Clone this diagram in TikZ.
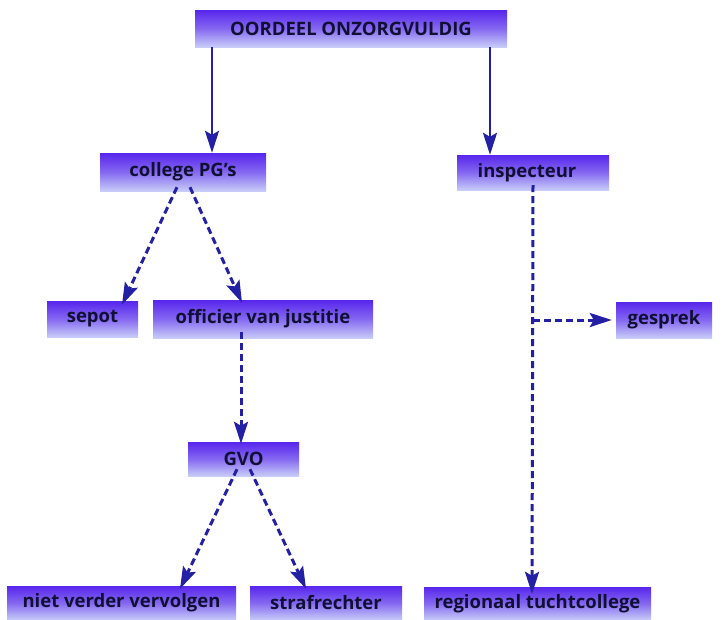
\documentclass[tikz,border=0pt]{standalone}
\usepackage{fontspec}
\setmainfont{Open Sans}
\usetikzlibrary{arrows.meta}
\definecolor{boxtop}{RGB}{88,38,236}
\definecolor{boxbot}{RGB}{200,204,248}
\definecolor{txt}{RGB}{16,16,52}
\definecolor{arr}{RGB}{36,32,165}
\tikzset{
  arrowtip/.style={-{Stealth[length=22pt,width=14pt,inset=4pt]}},
  box/.style={rectangle, inner sep=0pt, top color=boxtop, bottom color=boxbot,
    middle color={boxtop!60!boxbot}, text=txt, font=\fontsize{18.5}{21}\selectfont\bfseries},
  solidarrow/.style={draw=arr, line width=2.6pt, arrowtip},
  dasharrow/.style={draw=arr, line width=3pt, dash pattern=on 7pt off 4pt, arrowtip},
}
\begin{document}
\begin{tikzpicture}[x=1pt,y=-1pt]
\useasboundingbox (0,0) rectangle (723,619);
\clip (0,0) rectangle (723,619);
\node[box, minimum width=312pt, minimum height=37pt] (top) at (351,28.5) {OORDEEL ONZORGVULDIG};
\node[box, minimum width=166pt, minimum height=38pt] (college) at (183,172) {college PG's};
\node[box, minimum width=152pt, minimum height=35pt] (insp) at (533,172.5) {\hspace*{-12pt}inspecteur};
\node[box, minimum width=91pt, minimum height=36pt] (sepot) at (92.5,319) {sepot};
\node[box, minimum width=220pt, minimum height=38pt] (officier) at (263,319) {officier van justitie};
\node[box, minimum width=96pt, minimum height=36pt] (gesprek) at (664,320) {gesprek};
\node[box, minimum width=111pt, minimum height=34pt] (gvo) at (243.5,459) {GVO};
\node[box, minimum width=229pt, minimum height=34pt] (niet) at (121.5,603) {niet verder vervolgen};
\node[box, minimum width=152pt, minimum height=34pt] (straf) at (326,603) {strafrechter};
\node[box, minimum width=227pt, minimum height=33pt] (regio) at (537.5,603.5) {regionaal tuchtcollege};
% solid arrows
\draw[solidarrow] ([xshift=-139pt]top.south) -- ([xshift=29pt]college.north);
\draw[solidarrow] ([xshift=139pt]top.south) -- ([xshift=-43pt]insp.north);
% dashed arrows
\draw[dasharrow] ([xshift=-6pt,yshift=4pt]college.south) -- ([xshift=29.5pt,yshift=-4pt]sepot.north);
\draw[dasharrow] ([xshift=7pt,yshift=4pt]college.south) -- ([xshift=-21pt,yshift=-3pt]officier.north);
\draw[dasharrow] ([xshift=-22pt,yshift=6pt]officier.south) -- ([xshift=-2.5pt,yshift=-2pt]gvo.north);
\draw[dasharrow] ([xshift=-6.5pt,yshift=7pt]gvo.south) -- ([xshift=58.5pt,yshift=-3pt]niet.north);
\draw[dasharrow] ([xshift=6.5pt,yshift=7pt]gvo.south) -- ([xshift=-20pt,yshift=-3pt]straf.north);
\draw[dasharrow] ([yshift=5pt]insp.south) -- ([xshift=-5.5pt,yshift=-7pt]regio.north);
\coordinate (branch) at (insp.south |- gesprek.west);
\draw[dasharrow, shorten >=4pt] (branch) -- (gesprek.west);
\end{tikzpicture}
\end{document}
